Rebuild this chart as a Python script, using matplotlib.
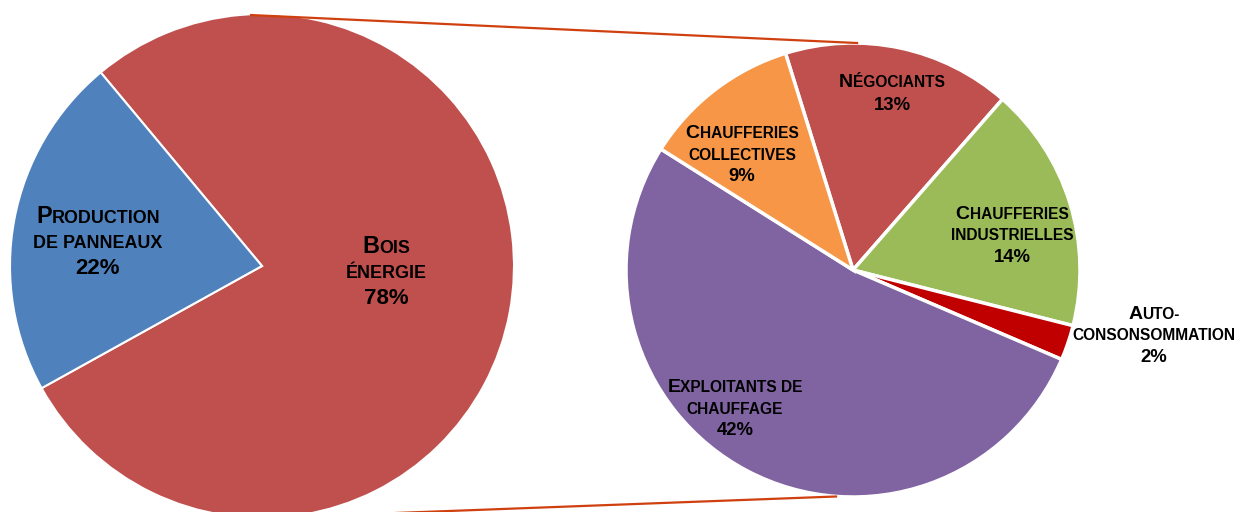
import numpy as np
import matplotlib
matplotlib.use("Agg")
import matplotlib.pyplot as plt
from matplotlib.offsetbox import TextArea, HPacker, VPacker, AnnotationBbox

# main pie: destination of the wood
left_labels = ["Bois\nénergie", "Production\nde panneaux"]
left_values = [78, 22]
left_colors = ["#C0504D", "#4F81BD"]

# secondary pie: breakdown of "bois énergie" (shares of the total)
right_labels = ["Négociants", "Chaufferies\nindustrielles", "Auto-\nconsonsommation",
                "Exploitants de\nchauffage", "Chaufferies\ncollectives"]
right_values = [13, 14, 2, 42, 9]
right_colors = ["#C0504D", "#9BBB59", "#C00000", "#8064A2", "#F79646"]
right_explode = [0, 0, 0.025, 0, 0]

# layout (pixel units, y up)
W, H = 1236, 512
left_center, left_radius = (262, 246), 252
right_center, right_radius = (853, 242), 227
left_label_offsets = [(124, -6), (-164, 24)]
right_label_offsets = [(39, 176), (159, 34), (301, -66), (-118, -139), (-111, 115)]

FONT = "Liberation Sans"


def smallcaps_line(text, big, small):
    # uppercase chars drawn big, lowercase drawn as smaller capitals
    runs = []
    for ch in text:
        size = big if ch.isupper() else small
        if runs and runs[-1][1] == size:
            runs[-1][0] += ch
        else:
            runs.append([ch, size])
    parts = [TextArea(t.upper(), textprops=dict(fontsize=s, fontweight="bold",
                                                family=FONT, color="black"))
             for t, s in runs]
    return HPacker(children=parts, align="baseline", pad=0, sep=0)


def add_label(ax, xy, label, value, big, small, pct, sep):
    lines = [smallcaps_line(l, big, small) for l in label.split("\n")]
    lines.append(TextArea(f"{value:.0f}%", textprops=dict(fontsize=pct, fontweight="bold",
                                                          family=FONT, color="black")))
    box = VPacker(children=lines, align="center", pad=0, sep=sep)
    ab = AnnotationBbox(box, xy, xycoords="data", frameon=False,
                        box_alignment=(0.5, 0.5), pad=0)
    ab.set_zorder(5)
    ax.add_artist(ab)


fig = plt.figure(figsize=(W / 100, H / 100), dpi=100)
ax = fig.add_axes([0, 0, 1, 1])

ax.pie(left_values, colors=left_colors, startangle=129.8, counterclock=False,
       center=left_center, radius=left_radius,
       wedgeprops=dict(edgecolor="white", linewidth=1.5))
ax.pie(right_values, colors=right_colors, startangle=107.3, counterclock=False,
       center=right_center, radius=right_radius, explode=right_explode,
       wedgeprops=dict(edgecolor="white", linewidth=2.5))

# connector lines between the two pies
ang_top, ang_bot = np.radians(88.7), np.radians(266)
ax.plot([left_center[0] - 12, right_center[0] + right_radius * np.cos(ang_top)],
        [left_center[1] + left_radius - 1, right_center[1] + right_radius * np.sin(ang_top)],
        color="#D0400F", lw=1.6, zorder=3, solid_capstyle="butt")
ax.plot([left_center[0], right_center[0] + right_radius * np.cos(ang_bot)],
        [left_center[1] - left_radius, right_center[1] + right_radius * np.sin(ang_bot)],
        color="#D0400F", lw=1.6, zorder=3, solid_capstyle="butt")

for lab, val, off in zip(left_labels, left_values, left_label_offsets):
    add_label(ax, (left_center[0] + off[0], left_center[1] + off[1]), lab, val,
              big=16.8, small=12.9, pct=16, sep=5)
for lab, val, off in zip(right_labels, right_values, right_label_offsets):
    add_label(ax, (right_center[0] + off[0], right_center[1] + off[1]), lab, val,
              big=14, small=11.2, pct=13.3, sep=4)

ax.set_xlim(0, W)
ax.set_ylim(0, H)
ax.set_aspect("equal")
ax.axis("off")

fig.savefig("out.png", dpi=100)
